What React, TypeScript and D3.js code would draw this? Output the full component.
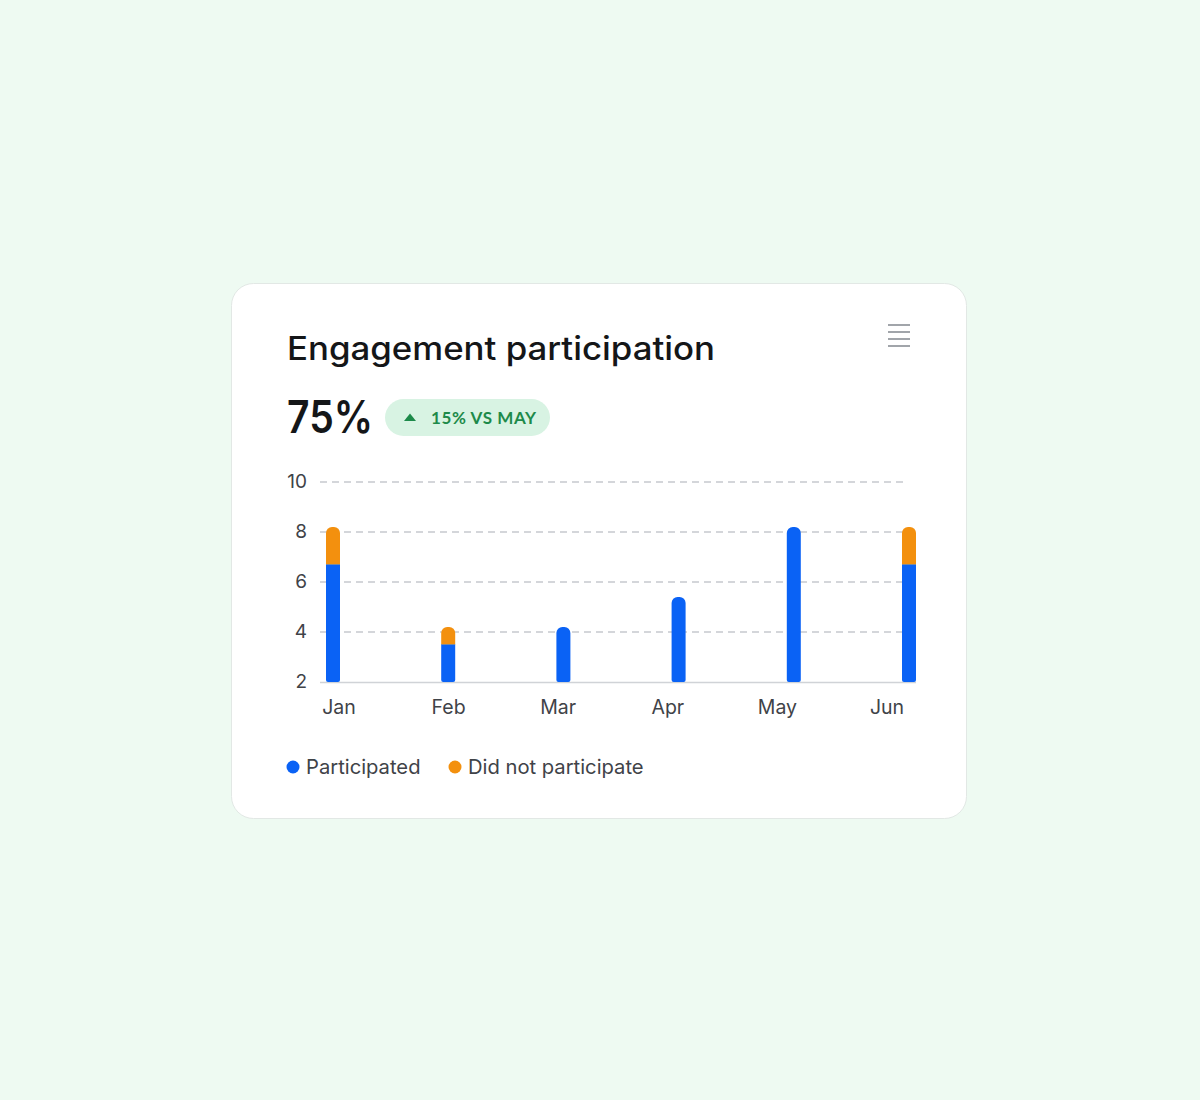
import React, { useEffect, useRef } from "react";
import * as d3 from "d3";

const months = ["Jan", "Feb", "Mar", "Apr", "May", "Jun"];
const participated = [6.7, 3.5, 4.2, 5.4, 8.2, 6.7];
const didNotParticipate = [1.5, 0.7, 0, 0, 0, 1.5];
const yTicks = [2, 4, 6, 8, 10];
const legendItems = ["Participated", "Did not participate"];

const BLUE = "#0a62f5";
const ORANGE = "#f3900e";

export default function App() {
  const svgRef = useRef<SVGSVGElement>(null);

  // define display
  const W = 1200;
  const H = 1100;
  const plot = { left: 320, right: 907, top: 482, bottom: 682 };

  useEffect(() => {
    const svg = d3.select(svgRef.current);
    svg.selectAll("*").remove();

    svg.append("rect").attr("width", W).attr("height", H).attr("fill", "#eefaf2");

    // card
    svg
      .append("rect")
      .attr("x", 231.5)
      .attr("y", 283.5)
      .attr("width", 735)
      .attr("height", 535)
      .attr("rx", 22)
      .attr("fill", "#ffffff")
      .attr("stroke", "#e2e8e5");

    // menu icon
    const menu = svg.append("g");
    [325, 332, 339, 346].forEach((y) => {
      menu
        .append("line")
        .attr("x1", 888)
        .attr("x2", 910)
        .attr("y1", y)
        .attr("y2", y)
        .attr("stroke", "#8a8f95")
        .attr("stroke-width", 1.6);
    });

    svg
      .append("text")
      .attr("x", 287)
      .attr("y", 360)
      .attr("font-family", "Inter, sans-serif")
      .attr("font-size", 32)
      .attr("font-weight", 500)
      .attr("textLength", 428)
      .attr("lengthAdjust", "spacingAndGlyphs")
      .attr("fill", "#141618")
      .text("Engagement participation");

    svg
      .append("text")
      .attr("x", 287)
      .attr("y", 433)
      .attr("font-family", "Inter, sans-serif")
      .attr("font-size", 45)
      .attr("font-weight", 600)
      .attr("textLength", 86)
      .attr("lengthAdjust", "spacingAndGlyphs")
      .attr("fill", "#141618")
      .text("75%");

    // change pill
    svg
      .append("rect")
      .attr("x", 385)
      .attr("y", 399)
      .attr("width", 165)
      .attr("height", 37)
      .attr("rx", 18.5)
      .attr("fill", "#d8f3e3");
    svg
      .append("path")
      .attr("d", "M404,421 L410,413.5 L416,421 Z")
      .attr("fill", "#1d8a4a");
    svg
      .append("text")
      .attr("x", 431)
      .attr("y", 424)
      .attr("font-family", "Lato, sans-serif")
      .attr("font-size", 17)
      .attr("font-weight", 700)
      .attr("letter-spacing", 0.6)
      .attr("fill", "#1d8a4a")
      .text("15% VS MAY");

    const y = d3.scaleLinear().domain([2, 10]).range([plot.bottom, plot.top]);
    const xBar = d3.scalePoint().domain(months).range([333, 909]);
    const xLabel = d3.scalePoint().domain(months).range([339, 887]);

    // grid
    svg
      .append("g")
      .selectAll("line")
      .data(yTicks.filter((t) => t > 2))
      .enter()
      .append("line")
      .attr("x1", plot.left)
      .attr("x2", plot.right)
      .attr("y1", (d) => y(d))
      .attr("y2", (d) => y(d))
      .attr("stroke", "#c6c9ce")
      .attr("stroke-width", 1.3)
      .attr("stroke-dasharray", "7,5");

    svg
      .append("line")
      .attr("x1", plot.left)
      .attr("x2", 916)
      .attr("y1", y(2) + 0.5)
      .attr("y2", y(2) + 0.5)
      .attr("stroke", "#d0d3d7")
      .attr("stroke-width", 1.5);

    svg
      .append("g")
      .selectAll("text")
      .data(yTicks)
      .enter()
      .append("text")
      .attr("x", 307)
      .attr("y", (d) => y(d) + 6)
      .attr("text-anchor", "end")
      .attr("font-family", "Inter, sans-serif")
      .attr("font-size", 19)
      .attr("fill", "#3f4348")
      .text((d) => d);

    svg
      .append("g")
      .selectAll("text")
      .data(months)
      .enter()
      .append("text")
      .attr("x", (d) => xLabel(d)!)
      .attr("y", 714)
      .attr("text-anchor", "middle")
      .attr("font-family", "Inter, sans-serif")
      .attr("font-size", 19.5)
      .attr("fill", "#3f4348")
      .text((d) => d);

    // bars: rounded top, flat-ish bottom
    const bw = 14;
    const r = 6;
    const barPath = (cx: number, top: number, bottom: number, roundTop: boolean) => {
      const x0 = cx - bw / 2;
      const x1 = cx + bw / 2;
      const rb = 2;
      const p = d3.path();
      if (roundTop) {
        p.moveTo(x0, top + r);
        p.arcTo(x0, top, x0 + r, top, r);
        p.lineTo(x1 - r, top);
        p.arcTo(x1, top, x1, top + r, r);
      } else {
        p.moveTo(x0, top);
        p.lineTo(x1, top);
      }
      p.lineTo(x1, bottom - rb);
      p.arcTo(x1, bottom, x1 - rb, bottom, rb);
      p.lineTo(x0 + rb, bottom);
      p.arcTo(x0, bottom, x0, bottom - rb, rb);
      p.closePath();
      return p.toString();
    };
    const topPath = (cx: number, top: number, bottom: number) => {
      const x0 = cx - bw / 2;
      const x1 = cx + bw / 2;
      const p = d3.path();
      p.moveTo(x0, bottom);
      p.lineTo(x0, top + r);
      p.arcTo(x0, top, x0 + r, top, r);
      p.lineTo(x1 - r, top);
      p.arcTo(x1, top, x1, top + r, r);
      p.lineTo(x1, bottom);
      p.closePath();
      return p.toString();
    };

    const bars = svg.append("g");
    months.forEach((m, i) => {
      const cx = xBar(m)!;
      const p = participated[i];
      const n = didNotParticipate[i];
      bars
        .append("path")
        .attr("d", barPath(cx, y(p), y(2), n === 0))
        .attr("fill", BLUE);
      if (n > 0) {
        bars
          .append("path")
          .attr("d", topPath(cx, y(p + n), y(p) - 0.5))
          .attr("fill", ORANGE);
        bars
          .append("line")
          .attr("x1", cx - bw / 2)
          .attr("x2", cx + bw / 2)
          .attr("y1", y(p))
          .attr("y2", y(p))
          .attr("stroke", "#7b8a9c")
          .attr("stroke-width", 1);
      }
    });

    // legend
    const legendX = [293, 455];
    const legend = svg.append("g");
    legendItems.forEach((name, i) => {
      legend
        .append("circle")
        .attr("cx", legendX[i])
        .attr("cy", 767)
        .attr("r", 6.5)
        .attr("fill", i === 0 ? BLUE : ORANGE);
      legend
        .append("text")
        .attr("x", legendX[i] + 13)
        .attr("y", 774)
        .attr("font-family", "Inter, sans-serif")
        .attr("font-size", 20.2)
        .attr("fill", "#3f4348")
        .text(name);
    });
  }, []);

  return (
    <svg
      ref={svgRef}
      width={W}
      height={H}
      style={{ position: "absolute", left: 0, top: 0, display: "block" }}
    />
  );
}
